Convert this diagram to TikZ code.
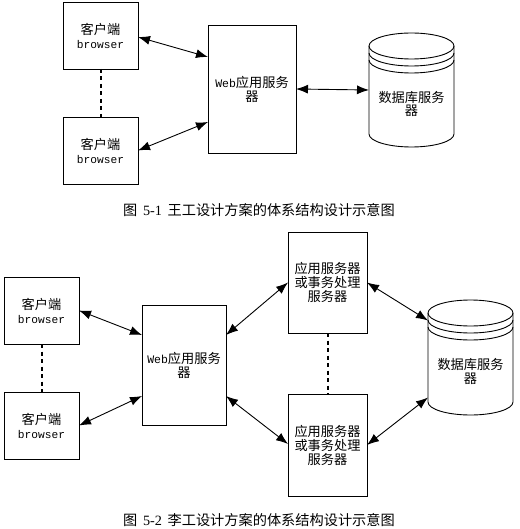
\documentclass[tikz,border=0pt]{standalone}
\usepackage{fontspec}
\setmainfont{Liberation Serif}
\newfontfamily\cjk{Noto Sans CJK SC}
\newfontfamily\mono{Liberation Mono}
\usetikzlibrary{arrows.meta}
\tikzset{
  box/.style={draw, line width=0.9pt, inner sep=0pt, outer sep=0pt, align=center,
    font=\cjk\fontsize{13.2}{14}\selectfont},
  dbarea/.style={inner sep=0pt, outer sep=0pt},
  dbtext/.style={align=center, inner sep=0pt, font=\cjk\fontsize{13.2}{13.5}\selectfont},
  biarrow/.style={line width=0.9pt, {Latex[length=12pt,width=9pt]}-{Latex[length=12pt,width=9pt]}},
  dashline/.style={line width=2pt, dash pattern=on 4pt off 3.5pt},
  cyl/.style={line width=0.9pt},
  caption/.style={font=\cjk\fontsize{14.2}{16}\selectfont, inner sep=0pt}
}
\newcommand\brw{{\mono\fontsize{11.2}{13}\selectfont browser}}
\newcommand\wb{{\mono\fontsize{11.5}{13}\selectfont Web}}
\begin{document}
\begin{tikzpicture}[x=1pt,y=-1pt]
\useasboundingbox (0,0) rectangle (519,529);
% ---------- Figure 5-1 ----------
\node[box, minimum width=75pt, minimum height=67pt] (c1) at (100.5,35.5) {客户端\\\brw};
\node[box, minimum width=75pt, minimum height=67pt] (c2) at (100.5,150.5) {客户端\\\brw};
\node[box, minimum width=88pt, minimum height=128pt] (web1) at (252,89) {\wb 应用服务\\器};
\node[dbarea, minimum width=85pt, minimum height=114pt] (db1) at (411.5,90) {};
\draw[cyl] (411.5,46) ellipse [x radius=42.5pt, y radius=13pt];
\draw[cyl] (369,53) arc [start angle=180, end angle=360, x radius=42.5pt, y radius=13pt];
\draw[cyl] (369,60) arc [start angle=180, end angle=360, x radius=42.5pt, y radius=13pt];
\draw[cyl] (369,46) -- (369,134) arc [start angle=180, end angle=360, x radius=42.5pt, y radius=13pt] -- (454,46);
\node[dbtext] (db1t) at (411.5,104) {数据库服务\\器};
\draw[dashline] (c1.south) -- (c2.north);
\draw[biarrow] ([yshift=-1.5pt]c1.east) -- ([yshift=32pt]web1.west);
\draw[biarrow] (c2.east) -- ([yshift=-33pt]web1.west);
\draw[biarrow] (web1.east) -- (db1.west);
\node[caption] (cap1) at (259,210) {图\hspace{0.4em}{\rmfamily 5-1}\hspace{0.4em}王工设计方案的体系结构设计示意图};
% ---------- Figure 5-2 ----------
\node[box, minimum width=75pt, minimum height=67pt] (bc1) at (41.5,310.5) {客户端\\\brw};
\node[box, minimum width=75pt, minimum height=67pt] (bc2) at (41.5,425.5) {客户端\\\brw};
\node[box, minimum width=84pt, minimum height=120pt] (web2) at (184,365) {\wb 应用服务\\器};
\node[box, minimum width=79pt, minimum height=101pt] (app1) at (327.5,282.5) {应用服务器\\或事务处理\\服务器};
\node[box, minimum width=79pt, minimum height=102pt] (app2) at (327.5,445) {应用服务器\\或事务处理\\服务器};
\node[dbarea, minimum width=85pt, minimum height=115pt] (db2) at (470.5,357.5) {};
\draw[cyl] (470.5,313) ellipse [x radius=42.5pt, y radius=13pt];
\draw[cyl] (428,320) arc [start angle=180, end angle=360, x radius=42.5pt, y radius=13pt];
\draw[cyl] (428,327) arc [start angle=180, end angle=360, x radius=42.5pt, y radius=13pt];
\draw[cyl] (428,313) -- (428,402) arc [start angle=180, end angle=360, x radius=42.5pt, y radius=13pt] -- (513,313);
\node[dbtext] (db2t) at (470.5,371.5) {数据库服务\\器};
\draw[dashline] (bc1.south) -- (bc2.north);
\draw[dashline] (app1.south) -- (app2.north);
\draw[biarrow] (bc1.east) -- ([yshift=30pt]web2.west);
\draw[biarrow] (bc2.east) -- ([yshift=-31pt]web2.west);
\draw[biarrow] ([yshift=30pt]web2.east) -- (app1.west);
\draw[biarrow] ([yshift=-31pt]web2.east) -- ([yshift=1pt]app2.west);
\draw[biarrow] (app1.east) -- ([yshift=37pt]db2.west);
\draw[biarrow] (app2.east) -- ([yshift=-40pt]db2.west);
\node[caption] (cap2) at (259,520) {图\hspace{0.4em}{\rmfamily 5-2}\hspace{0.4em}李工设计方案的体系结构设计示意图};
\end{tikzpicture}
\end{document}
